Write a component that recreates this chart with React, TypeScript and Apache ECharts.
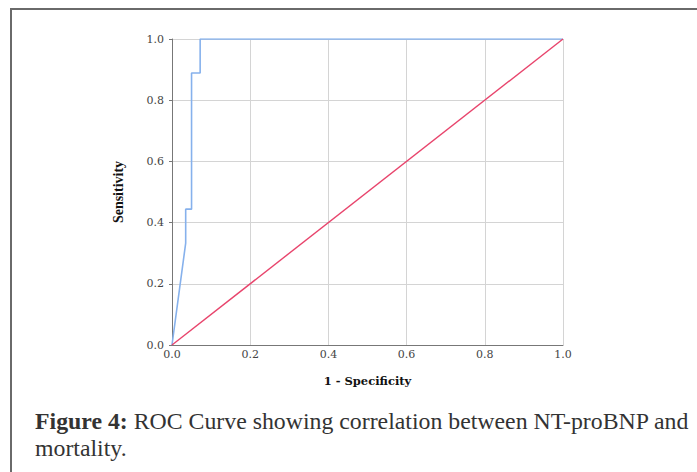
import React, { useEffect, useRef } from "react";
import * as echarts from "echarts";

const rocX = [0, 0.035, 0.035, 0.05, 0.05, 0.072, 0.072, 1];
const rocY = [0, 0.333, 0.444, 0.444, 0.889, 0.889, 1, 1];
const refX = [0, 1];
const refY = [0, 1];
const xTitle = "1 - Specificity";
const yTitle = "Sensitivity";
const captionBold = "Figure 4:";
const captionLine1 = " ROC Curve showing correlation between NT-proBNP and";
const captionLine2 = "mortality.";

export default function App() {
  const ref = useRef<HTMLDivElement>(null);
  useEffect(() => {
    if (!ref.current) return;
    const chart = echarts.init(ref.current, null, { renderer: "svg" });
    const serif = "Liberation Serif";
    const wide = "DejaVu Serif";
    chart.setOption({
      animation: false,
      backgroundColor: "#ffffff",
      grid: { left: 172, right: 134, top: 39, bottom: 127 },
      xAxis: {
        type: "value",
        min: 0,
        max: 1,
        interval: 0.2,
        name: xTitle,
        nameLocation: "middle",
        nameGap: 30,
        nameTextStyle: { fontFamily: wide, fontWeight: "bold", fontSize: 11.5, color: "#111" },
        axisLine: { show: true, lineStyle: { color: "#777", width: 1 } },
        axisTick: { show: false },
        axisLabel: {
          fontFamily: wide,
          fontSize: 11,
          color: "#444",
          margin: 4,
          formatter: (v: number) => v.toFixed(1),
        },
        splitLine: { show: true, lineStyle: { color: "#d4d4d4", width: 1 } },
      },
      yAxis: {
        type: "value",
        min: 0,
        max: 1,
        interval: 0.2,
        name: yTitle,
        nameLocation: "middle",
        nameGap: 47,
        nameRotate: 90,
        nameTextStyle: { fontFamily: serif, fontWeight: "bold", fontSize: 14, color: "#111" },
        axisLine: { show: true, lineStyle: { color: "#777", width: 1 } },
        axisTick: { show: true, length: 3, lineStyle: { color: "#777" } },
        axisLabel: {
          fontFamily: wide,
          fontSize: 11,
          color: "#444",
          margin: 8,
          formatter: (v: number) => v.toFixed(1),
        },
        splitLine: { show: true, lineStyle: { color: "#d4d4d4", width: 1 } },
      },
      series: [
        {
          type: "line",
          data: rocX.map((x, i) => [x, rocY[i]]),
          symbol: "none",
          lineStyle: { color: "#86b1ec", width: 1.6 },
          z: 3,
        },
        {
          type: "line",
          data: refX.map((x, i) => [x, refY[i]]),
          symbol: "none",
          lineStyle: { color: "#e8446c", width: 1.4 },
          z: 4,
        },
      ],
      graphic: [
        {
          type: "rect",
          shape: { x: 11, y: 9, width: 720, height: 500 },
          style: { fill: "none", stroke: "#6a6a6a", lineWidth: 2 },
          silent: true,
        },
        {
          type: "text",
          x: 35,
          y: 409,
          style: {
            text: "{b|" + captionBold + "}{n|" + captionLine1 + "}",
            rich: {
              b: { fontFamily: serif, fontWeight: "bold", fontSize: 23.8, fill: "#333" },
              n: { fontFamily: serif, fontSize: 23.8, fill: "#333" },
            },
          },
        },
        {
          type: "text",
          x: 35,
          y: 436,
          style: { text: captionLine2, fontFamily: serif, fontSize: 23.8, fill: "#333" },
        },
      ],
    });
    return () => chart.dispose();
  }, []);
  return (
    <div
      ref={ref}
      style={{ position: "fixed", left: 0, top: 0, width: 697, height: 472 }}
    />
  );
}
